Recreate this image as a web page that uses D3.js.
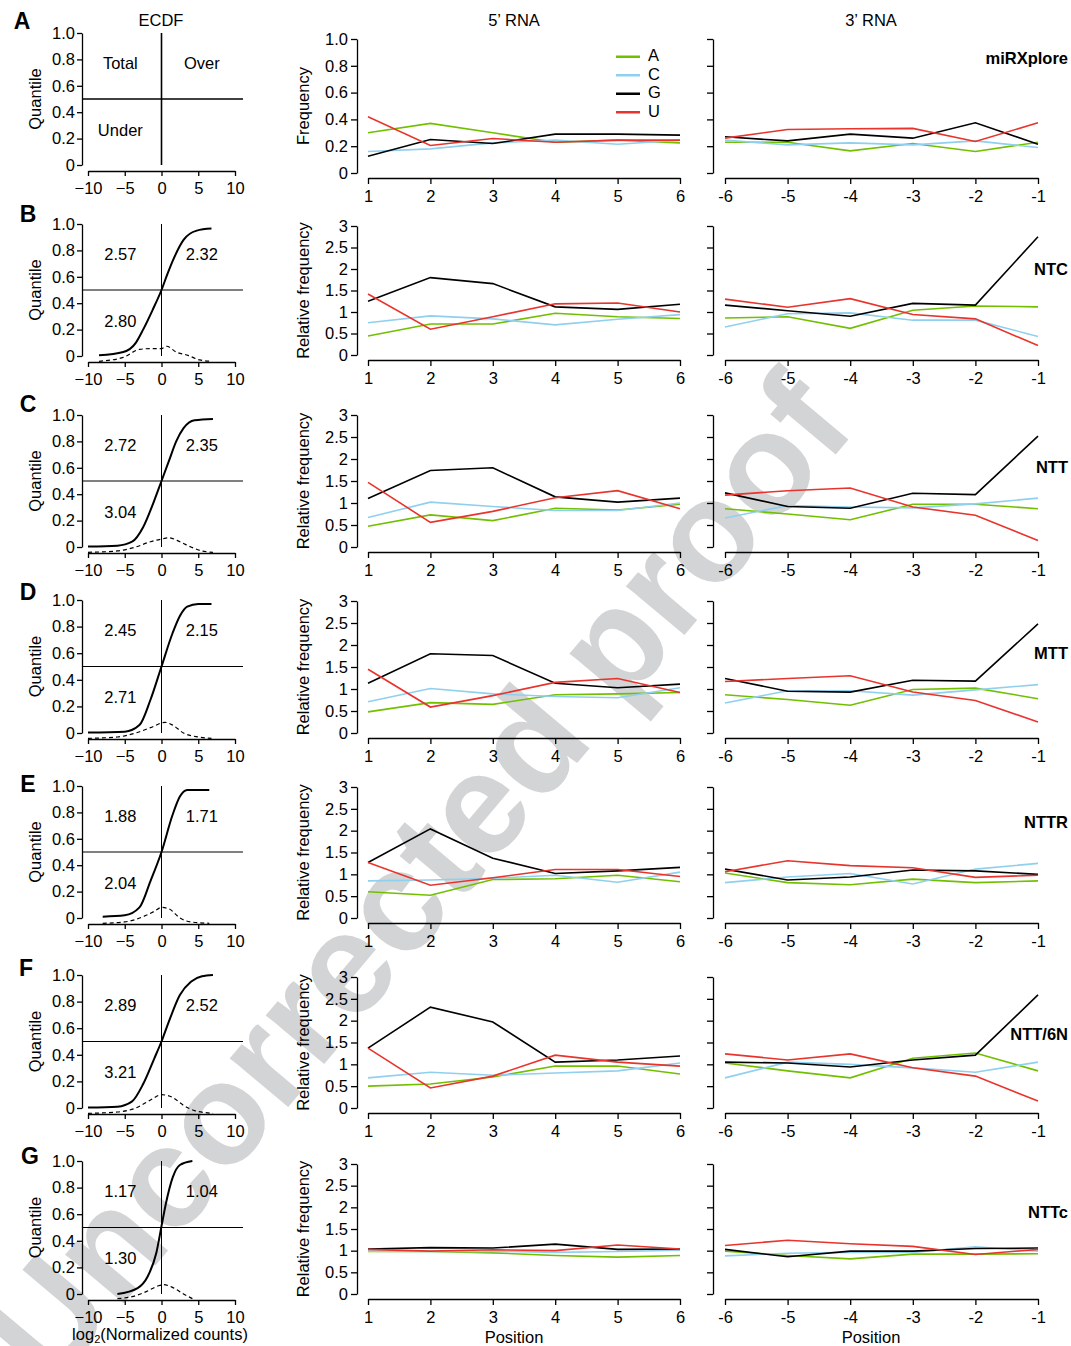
<html>
<meta charset="utf-8">
<script src="https://d3js.org/d3.v7.min.js"></script>
<style>
  body { margin: 0; background: #fff; }
  text { font-family: "Liberation Sans", Arial, sans-serif; }
</style>
<div id="fig"></div>
<script>
// ---- data ----
const nucs = ["A", "C", "G", "U"]
const nucColors = ["#72bf00", "#8fd0ef", "#000000", "#e8342c"]
const pos5 = [1, 2, 3, 4, 5, 6]
const pos3 = [-6, -5, -4, -3, -2, -1]
const libraries = ["miRXplore", "NTC", "NTT", "MTT", "NTTR", "NTT/6N", "NTTc"]
const letters = ["A", "B", "C", "D", "E", "F", "G"]

// ECDF quadrant numbers (row A uses words)
const totalVals = ["Total", "2.57", "2.72", "2.45", "1.88", "2.89", "1.17"]
const overVals  = ["Over", "2.32", "2.35", "2.15", "1.71", "2.52", "1.04"]
const underVals = ["Under", "2.80", "3.04", "2.71", "2.04", "3.21", "1.30"]

// ECDF curves [log2 count, quantile]
const ecdfB = [[-8.5,0.005],[-5.2,0.03],[-3.5,0.1],[-2.5,0.2],[-1.2,0.35],[0,0.5],[0.8,0.62],[1.6,0.73],[3,0.88],[4.8,0.95],[6.8,0.965]]
const ecdfC = [[-10,0.003],[-6,0.01],[-4,0.04],[-2.5,0.15],[-1,0.35],[0,0.5],[1,0.65],[2,0.8],[3,0.9],[4.5,0.96],[7,0.97]]
const ecdfD = [[-10,0.003],[-5,0.01],[-3,0.06],[-1.5,0.25],[0,0.5],[1.5,0.75],[2.5,0.88],[3.5,0.95],[5,0.97],[6.8,0.97]]
const ecdfE = [[-8,0.01],[-5,0.02],[-3,0.08],[-1.5,0.28],[0,0.5],[1.5,0.78],[2.5,0.92],[3.5,0.97],[6.5,0.97]]
const ecdfF = [[-10,0.003],[-6,0.01],[-4,0.05],[-2.5,0.18],[-1,0.37],[0,0.5],[1,0.65],[2.5,0.85],[4,0.95],[5.5,0.99],[7,1.0]]
const ecdfG = [[-6,0.0],[-3.25,0.045],[-1.9,0.13],[-0.7,0.31],[0,0.51],[0.6,0.68],[1.55,0.88],[2.5,0.97],[4.2,1.0]]
// density (dashed) curves
const densB = [[-8.5,-0.04],[-5.2,-0.01],[-3,0.05],[-1.6,0.056],[0,0.056],[0.7,0.074],[2,0.03],[3.6,0.005],[5.2,-0.03],[6.8,-0.04]]
const densC = [[-10,-0.04],[-6,-0.03],[-3.5,0.0],[-1.5,0.04],[0,0.06],[1,0.07],[2.5,0.04],[4,0.0],[5.5,-0.03],[7,-0.04]]
const densD = [[-10,-0.04],[-6,-0.03],[-3.5,0.0],[-1.5,0.04],[0.5,0.08],[1.5,0.06],[3,0.0],[5,-0.03],[6.8,-0.04]]
const densE = [[-8,-0.04],[-5,-0.03],[-2.5,0.01],[-1,0.05],[0,0.08],[1,0.07],[2.5,0.0],[4,-0.03],[6.5,-0.04]]
const densF = [[-10,-0.04],[-6,-0.03],[-3.5,0.0],[-1.5,0.06],[0,0.1],[1.5,0.08],[3,0.02],[4.5,-0.02],[7,-0.04]]
const densG = [[-6,-0.035],[-4,-0.02],[-2,0.02],[-0.5,0.06],[0.3,0.07],[1.5,0.05],[3,0.0],[4.2,-0.035]]

// nucleotide frequencies, rows = A, C, G, U
const mirx5 = [[0.30,0.37,0.30,0.23,0.245,0.225],[0.16,0.18,0.225,0.245,0.215,0.245],[0.125,0.25,0.22,0.29,0.29,0.283],[0.42,0.205,0.257,0.23,0.245,0.245]]
const mirx3 = [[0.23,0.23,0.165,0.22,0.16,0.23],[0.245,0.21,0.225,0.21,0.24,0.19],[0.27,0.24,0.29,0.26,0.375,0.215],[0.26,0.325,0.33,0.333,0.235,0.375]]
const ntc5 = [[0.44,0.72,0.72,0.97,0.89,0.85],[0.75,0.91,0.84,0.70,0.83,0.94],[1.25,1.80,1.66,1.12,1.06,1.18],[1.42,0.60,0.89,1.19,1.21,1.0]]
const ntc3 = [[0.86,0.89,0.62,1.04,1.14,1.12],[0.65,0.96,0.98,0.81,0.81,0.43],[1.16,1.03,0.90,1.20,1.16,2.75],[1.30,1.11,1.31,0.94,0.84,0.22]]
const ntt5 = [[0.47,0.73,0.60,0.88,0.84,0.97],[0.67,1.02,0.92,0.83,0.83,1.0],[1.10,1.74,1.80,1.14,1.02,1.11],[1.47,0.56,0.81,1.12,1.28,0.87]]
const ntt3 = [[0.87,0.75,0.62,0.97,0.97,0.87],[0.66,0.94,0.91,0.89,0.98,1.11],[1.23,0.92,0.88,1.22,1.19,2.52],[1.18,1.28,1.34,0.91,0.72,0.15]]
const mtt5 = [[0.48,0.69,0.65,0.87,0.89,0.92],[0.71,1.01,0.89,0.83,0.80,1.03],[1.13,1.80,1.76,1.13,1.03,1.11],[1.45,0.59,0.85,1.15,1.24,0.92]]
const mtt3 = [[0.87,0.76,0.63,0.99,1.02,0.78],[0.68,0.96,0.96,0.86,0.98,1.10],[1.24,0.95,0.93,1.20,1.18,2.48],[1.17,1.24,1.30,0.93,0.74,0.25]]
const nttr5 = [[0.60,0.52,0.88,0.90,0.98,0.83],[0.85,0.87,0.91,0.98,0.82,1.05],[1.27,2.04,1.37,1.02,1.08,1.16],[1.27,0.75,0.92,1.11,1.11,0.95]]
const nttr3 = [[1.03,0.81,0.76,0.89,0.81,0.85],[0.81,0.94,1.02,0.78,1.12,1.25],[1.12,0.87,0.94,1.10,1.08,1.0],[1.06,1.31,1.20,1.15,0.93,0.98]]
const ntt6n5 = [[0.50,0.55,0.71,0.96,0.96,0.78],[0.69,0.82,0.75,0.80,0.85,1.03],[1.37,2.31,1.97,1.05,1.10,1.19],[1.37,0.46,0.73,1.21,1.05,0.96]]
const ntt6n3 = [[1.03,0.85,0.69,1.14,1.26,0.85],[0.69,1.05,1.0,0.92,0.82,1.05],[1.05,1.03,0.94,1.10,1.21,2.59],[1.24,1.10,1.24,0.92,0.73,0.16]]
const nttc5 = [[0.98,0.98,0.95,0.89,0.85,0.89],[0.99,0.98,0.99,0.96,0.98,1.01],[1.04,1.07,1.06,1.15,1.03,1.04],[1.03,0.99,1.02,1.0,1.13,1.04]]
const nttc3 = [[0.99,0.89,0.81,0.92,0.92,0.93],[0.88,0.94,0.96,0.96,1.09,0.99],[1.03,0.86,0.99,0.99,1.05,1.06],[1.12,1.24,1.16,1.10,0.91,1.03]]

const freqTicksA = [0, 0.2, 0.4, 0.6, 0.8, 1.0]
const relTicks = [0, 0.5, 1, 1.5, 2, 2.5, 3]
const ecdfYTicks = [0, 0.2, 0.4, 0.6, 0.8, 1.0]
const ecdfXTicks = [-10, -5, 0, 5, 10]

// ---- layout ----
let width = 1071, height = 1346
let ecdfTop = [33, 224, 415, 600, 786, 975, 1161]
let ecdfBot = [165, 356, 547, 733, 918, 1108, 1294]
let rnaTop = [39, 226, 415, 601, 787, 977, 1164]
let rnaBot = [173, 355, 547, 733, 918, 1108, 1294]
let libLabelY = [60, 271, 469, 655, 824, 1036, 1214]
let letterPos = [[22, 29], [28, 222], [28, 412], [28, 600], [28, 792], [26, 976], [30, 1164]]

let ecdfs = [null, ecdfB, ecdfC, ecdfD, ecdfE, ecdfF, ecdfG]
let denss = [null, densB, densC, densD, densE, densF, densG]
let rna5 = [mirx5, ntc5, ntt5, mtt5, nttr5, ntt6n5, nttc5]
let rna3 = [mirx3, ntc3, ntt3, mtt3, nttr3, ntt6n3, nttc3]

let svg = d3.select("#fig").append("svg")
    .attr("width", width)
    .attr("height", height)

// watermark underneath
svg.append("text")
    .attr("transform", "translate(425,885) rotate(-50)")
    .attr("text-anchor", "middle")
    .attr("dominant-baseline", "middle")
    .attr("font-size", 144)
    .attr("font-weight", "bold")
    .attr("fill", "#d3d4d6")
    .text("Uncorrected proof")

let fontSize = 16.5

function styleAxis(g) {
    g.selectAll("path, line").attr("stroke", "#000").attr("stroke-width", 1.3)
    g.selectAll("text").attr("font-size", fontSize).attr("fill", "#000")
        .style("font-family", "'Liberation Sans', Arial, sans-serif")
}

let ex = d3.scaleLinear().domain([-10, 10]).range([88, 235])
let x5 = d3.scaleLinear().domain([1, 6]).range([368, 680])
let x3 = d3.scaleLinear().domain([-6, -1]).range([725, 1038])

for (let i = 0; i < 7; i++) {
    // ---------- ECDF panel ----------
    let ey = d3.scaleLinear().domain([0, 1]).range([ecdfBot[i], ecdfTop[i]])
    let g = svg.append("g")

    g.append("g").attr("transform", "translate(82,0)")
        .call(d3.axisLeft(ey).tickValues(ecdfYTicks).tickSize(5).tickPadding(2).tickSizeOuter(0)
            .tickFormat(d => d === 0 ? "0" : d3.format(".1f")(d)))
        .call(styleAxis)
    g.append("g").attr("transform", "translate(0," + (ecdfBot[i] + 6) + ")")
        .call(d3.axisBottom(ex).tickValues(ecdfXTicks).tickSize(5).tickPadding(6).tickSizeOuter(0))
        .call(styleAxis)

    let refW = i === 0 ? 1.6 : 1
    g.append("line").attr("x1", 82).attr("x2", 243)
        .attr("y1", ey(0.5)).attr("y2", ey(0.5))
        .attr("stroke", "#000").attr("stroke-width", refW)
    g.append("line").attr("x1", ex(0)).attr("x2", ex(0))
        .attr("y1", ey(1)).attr("y2", ey(0))
        .attr("stroke", "#000").attr("stroke-width", refW)

    if (ecdfs[i]) {
        let line = d3.line().x(d => ex(d[0])).y(d => ey(d[1])).curve(d3.curveMonotoneX)
        g.append("path").attr("d", line(denss[i])).attr("fill", "none")
            .attr("stroke", "#000").attr("stroke-width", 1.2).attr("stroke-dasharray", "4,3")
        g.append("path").attr("d", line(ecdfs[i])).attr("fill", "none")
            .attr("stroke", "#000").attr("stroke-width", 2)
    }

    let qFont = 16.5
    g.append("text").attr("x", ex(-5.6)).attr("y", ey(0.76)).attr("text-anchor", "middle")
        .attr("dominant-baseline", "middle").attr("font-size", qFont).text(totalVals[i])
    g.append("text").attr("x", ex(5.5)).attr("y", ey(0.76)).attr("text-anchor", "middle")
        .attr("dominant-baseline", "middle").attr("font-size", qFont).text(overVals[i])
    g.append("text").attr("x", ex(-5.6)).attr("y", ey(0.255)).attr("text-anchor", "middle")
        .attr("dominant-baseline", "middle").attr("font-size", qFont).text(underVals[i])

    g.append("text")
        .attr("transform", "translate(37," + (ecdfTop[i] + ecdfBot[i]) / 2 + ") rotate(-90)")
        .attr("text-anchor", "middle").attr("dominant-baseline", "middle")
        .attr("font-size", 16.5).text("Quantile")

    svg.append("text").attr("x", letterPos[i][0]).attr("y", letterPos[i][1])
        .attr("text-anchor", "middle").attr("font-size", 23).attr("font-weight", "bold")
        .text(letters[i])

    // ---------- 5' and 3' panels ----------
    let yMax = i === 0 ? 1 : 3
    let ticks = i === 0 ? freqTicksA : relTicks
    let y = d3.scaleLinear().domain([0, yMax]).range([rnaBot[i], rnaTop[i]])

    svg.append("g").attr("transform", "translate(357,0)")
        .call(d3.axisLeft(y).tickValues(ticks).tickSize(6).tickPadding(3).tickSizeOuter(0)
            .tickFormat(i === 0 ? (d => d === 0 ? "0" : d3.format(".1f")(d)) : (d => String(d))))
        .call(styleAxis)
    svg.append("g").attr("transform", "translate(713,0)")
        .call(d3.axisLeft(y).tickValues(ticks).tickSize(6).tickSizeOuter(0).tickFormat(""))
        .call(styleAxis)

    svg.append("g").attr("transform", "translate(0," + (rnaBot[i] + 5) + ")")
        .call(d3.axisBottom(x5).tickValues(pos5).tickSize(6).tickPadding(6).tickSizeOuter(0).tickFormat(d => String(d)))
        .call(styleAxis)
    svg.append("g").attr("transform", "translate(0," + (rnaBot[i] + 5) + ")")
        .call(d3.axisBottom(x3).tickValues(pos3).tickSize(6).tickPadding(6).tickSizeOuter(0).tickFormat(d => String(d)))
        .call(styleAxis)

    svg.append("text")
        .attr("transform", "translate(305," + (rnaTop[i] + rnaBot[i]) / 2 + ") rotate(-90)")
        .attr("text-anchor", "middle").attr("dominant-baseline", "middle")
        .attr("font-size", 16.5).text(i === 0 ? "Frequency" : "Relative frequency")

    let l5 = d3.line().x((d, k) => x5(pos5[k])).y(d => y(d))
    let l3 = d3.line().x((d, k) => x3(pos3[k])).y(d => y(d))
    nucs.forEach((n, k) => {
        svg.append("path").attr("d", l5(rna5[i][k])).attr("fill", "none")
            .attr("stroke", nucColors[k]).attr("stroke-width", 1.6)
        svg.append("path").attr("d", l3(rna3[i][k])).attr("fill", "none")
            .attr("stroke", nucColors[k]).attr("stroke-width", 1.6)
    })

    svg.append("text").attr("x", 1068).attr("y", libLabelY[i])
        .attr("text-anchor", "end").attr("dominant-baseline", "middle")
        .attr("font-size", 16.5).attr("font-weight", "bold").text(libraries[i])
}

// legend
let legY = d3.scaleBand().domain(nucs).range([46, 120])
nucs.forEach((n, k) => {
    let yy = legY(n) + legY.bandwidth() / 2 + 1.5
    svg.append("line").attr("x1", 616).attr("x2", 640).attr("y1", yy).attr("y2", yy)
        .attr("stroke", nucColors[k]).attr("stroke-width", 2.5)
    svg.append("text").attr("x", 648).attr("y", yy).attr("dominant-baseline", "middle")
        .attr("font-size", 16.5).text(n)
})

// column titles
svg.append("text").attr("x", 161).attr("y", 22).attr("text-anchor", "middle")
    .attr("dominant-baseline", "middle").attr("font-size", 16.5).text("ECDF")
svg.append("text").attr("x", 514).attr("y", 22).attr("text-anchor", "middle")
    .attr("dominant-baseline", "middle").attr("font-size", 16.5).text("5’ RNA")
svg.append("text").attr("x", 871).attr("y", 22).attr("text-anchor", "middle")
    .attr("dominant-baseline", "middle").attr("font-size", 16.5).text("3’ RNA")

// bottom axis titles
let xt = svg.append("text").attr("x", 160).attr("y", 1336).attr("text-anchor", "middle")
    .attr("dominant-baseline", "middle").attr("font-size", 16.5)
xt.append("tspan").text("log")
xt.append("tspan").attr("font-size", 11).attr("dy", 4).text("2")
xt.append("tspan").attr("dy", -4).text("(Normalized counts)")
svg.append("text").attr("x", 514).attr("y", 1339).attr("text-anchor", "middle")
    .attr("dominant-baseline", "middle").attr("font-size", 16.5).text("Position")
svg.append("text").attr("x", 871).attr("y", 1339).attr("text-anchor", "middle")
    .attr("dominant-baseline", "middle").attr("font-size", 16.5).text("Position")
</script>
</html>
